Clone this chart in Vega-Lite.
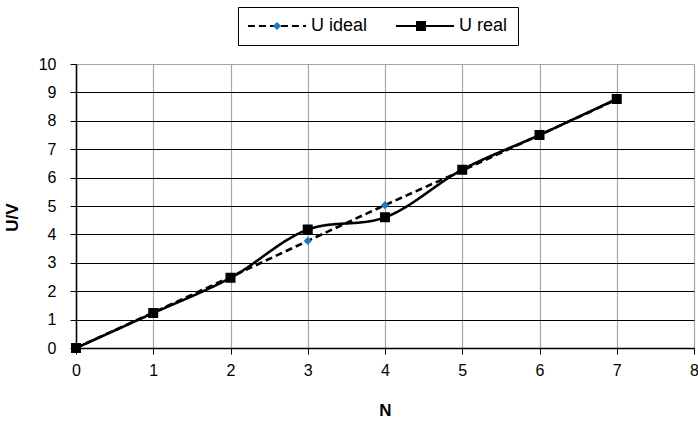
{
  "$schema": "https://vega.github.io/schema/vega-lite/v6.json",
  "autosize": "none",
  "width": 618,
  "height": 284,
  "padding": {"left": 76, "top": 64, "right": 4, "bottom": 75},
  "background": "white",
  "config": {
    "font": "Liberation Sans",
    "view": {"stroke": "#a6a6a6", "strokeWidth": 1}
  },
  "data": {
    "values": [
      {"N": 0, "U": 0, "series": "U ideal"},
      {"N": 1, "U": 1.25, "series": "U ideal"},
      {"N": 2, "U": 2.5, "series": "U ideal"},
      {"N": 3, "U": 3.77, "series": "U ideal"},
      {"N": 4, "U": 5.03, "series": "U ideal"},
      {"N": 5, "U": 6.25, "series": "U ideal"},
      {"N": 6, "U": 7.5, "series": "U ideal"},
      {"N": 7, "U": 8.75, "series": "U ideal"},
      {"N": 0, "U": 0, "series": "U real"},
      {"N": 1, "U": 1.23, "series": "U real"},
      {"N": 2, "U": 2.47, "series": "U real"},
      {"N": 3, "U": 4.17, "series": "U real"},
      {"N": 4, "U": 4.6, "series": "U real"},
      {"N": 5, "U": 6.28, "series": "U real"},
      {"N": 6, "U": 7.5, "series": "U real"},
      {"N": 7, "U": 8.77, "series": "U real"}
    ]
  },
  "encoding": {
    "x": {
      "field": "N", "type": "quantitative",
      "scale": {"domain": [0, 8], "nice": false},
      "axis": {
        "title": "N", "values": [0, 1, 2, 3, 4, 5, 6, 7, 8], "format": "d",
        "labelFontSize": 16, "labelColor": "black", "labelPadding": 8, "labelFlush": false,
        "tickColor": "black", "tickSize": 6, "tickWidth": 1,
        "domainColor": "black", "domainWidth": 1.5,
        "gridColor": "#a6a6a6", "gridWidth": 1.2,
        "titleFontSize": 17, "titleFontWeight": "bold", "titleColor": "black", "titlePadding": 24
      }
    },
    "y": {
      "field": "U", "type": "quantitative",
      "scale": {"domain": [0, 10], "nice": false},
      "axis": {
        "title": "U/V", "values": [0, 1, 2, 3, 4, 5, 6, 7, 8, 9, 10], "format": "d",
        "labelFontSize": 16, "labelColor": "black", "labelPadding": 14,
        "tickColor": "black", "tickSize": 6, "tickWidth": 1,
        "domainColor": "black", "domainWidth": 1.5,
        "gridColor": {"condition": {"test": "datum.value === 10", "value": "#a6a6a6"}, "value": "black"},
        "gridWidth": 1.2,
        "titleFontSize": 17, "titleFontWeight": "bold", "titleColor": "black",
        "titleX": -64, "titleY": 153, "titleBaseline": "middle", "titleAngle": -90
      }
    }
  },
  "layer": [
    {
      "mark": {"type": "line", "color": "black", "strokeWidth": 2.6, "interpolate": "catmull-rom"},
      "encoding": {
        "strokeDash": {
          "field": "series", "type": "nominal",
          "scale": {"domain": ["U ideal", "U real"], "range": [[7, 4], [1, 0]]},
          "legend": {
            "title": null, "orient": "none", "legendX": 162, "legendY": -57,
            "direction": "horizontal",
            "symbolType": "M-5,0H5", "symbolSize": 135, "symbolStrokeWidth": 2, "symbolStrokeColor": "black",
            "symbolOffset": 20, "labelOffset": 25, "labelFontSize": 18, "labelColor": "black",
            "columnPadding": 23, "padding": 10, "strokeColor": "black", "zindex": 0
          }
        }
      }
    },
    {
      "mark": {"type": "point", "filled": true, "size": 135, "opacity": 1, "strokeWidth": 0, "strokeOpacity": 0},
      "encoding": {
        "shape": {
          "field": "series", "type": "nominal",
          "scale": {"range": ["M-5,0H5M0,-0.7L0.7,0L0,0.7L-0.7,0Z", "M-5,0H5M-0.86,-0.86H0.86V0.86H-0.86Z"]},
          "legend": null
        },
        "color": {
          "field": "series", "type": "nominal",
          "scale": {"range": ["#1e78c2", "black"]},
          "legend": {
            "title": null, "orient": "none", "legendX": 162, "legendY": -57,
            "direction": "horizontal",
            "symbolSize": 135, "symbolStrokeWidth": 2,
            "symbolOffset": 20, "labelOffset": 0, "labelFontSize": 18, "labelExpr": "''",
            "columnPadding": 84, "padding": 10, "zindex": 1,
            "encode": {"symbols": {"update": {"stroke": {"value": "transparent"}}}}
          }
        }
      }
    }
  ]
}
